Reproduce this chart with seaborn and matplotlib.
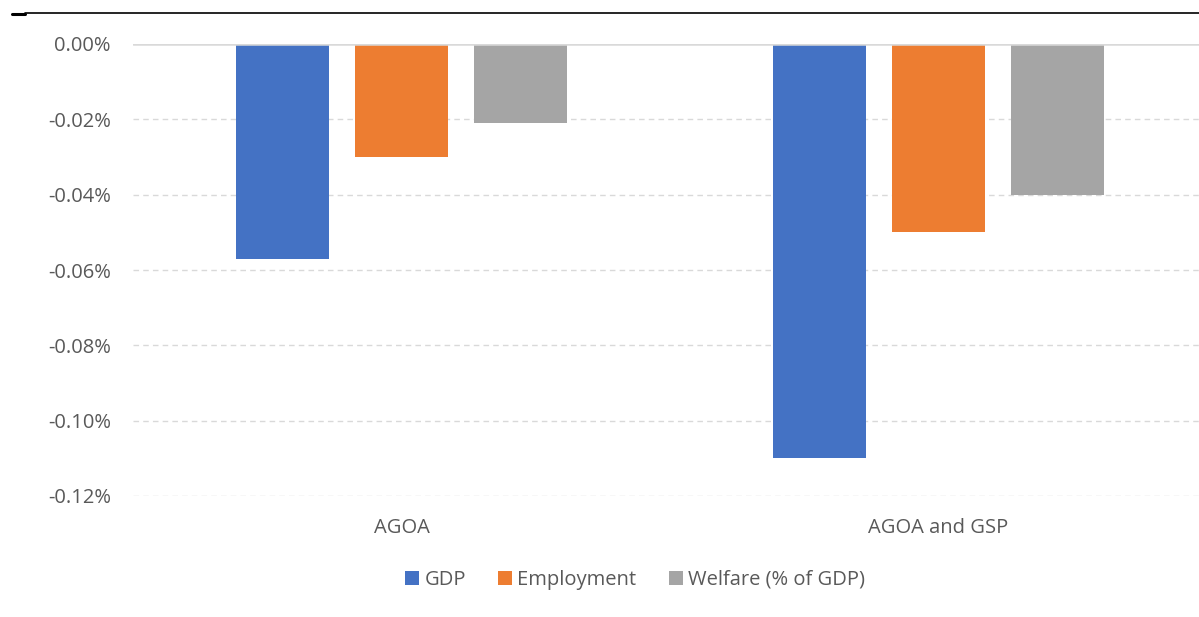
import matplotlib
matplotlib.use("Agg")
import matplotlib.pyplot as plt
from matplotlib.lines import Line2D
from matplotlib.patches import Patch
from matplotlib.ticker import FuncFormatter, MultipleLocator
import seaborn as sns
import pandas as pd

# Simulated effects of losing trade preferences (percent change)
scenarios = ["AGOA", "AGOA and GSP"]
series = ["GDP", "Employment", "Welfare (% of GDP)"]
gdp = [-0.057, -0.110]
employment = [-0.030, -0.050]
welfare = [-0.021, -0.040]
colors = ["#4472C4", "#ED7D31", "#A5A5A5"]

df = pd.DataFrame({
    "scenario": scenarios * 3,
    "measure": [s for s in series for _ in scenarios],
    "value": gdp + employment + welfare,
})

sns.set_theme(style="white")
plt.rcParams["font.family"] = ["Open Sans", "DejaVu Sans"]
text_color = "#595959"

W, H = 1199, 617
fig = plt.figure(figsize=(W / 100, H / 100), dpi=100)
ax = fig.add_axes([133 / W, 1 - 496 / H, (1199 - 133) / W, (496 - 44) / H])

sns.barplot(data=df, x="scenario", y="value", hue="measure",
            hue_order=series, order=scenarios, palette=colors,
            width=0.665, gap=0.218, saturation=1, ax=ax,
            legend=False, zorder=3, linewidth=0)

ax.set_ylim(-0.12, 0.0)
ax.set_xlim(-0.5, 1.5 - 8 / 537)
ax.yaxis.set_major_locator(MultipleLocator(0.02))
ax.yaxis.set_major_formatter(FuncFormatter(lambda v, p: f"{v:.2f}%".replace("-0.00", "0.00")))

for y in [-0.02, -0.04, -0.06, -0.08, -0.10, -0.12]:
    ax.axhline(y, color="#D9D9D9", lw=1, ls=(0, (4, 3)), zorder=1)
ax.axhline(0, color="#D9D9D9", lw=1.8, zorder=4)

for s in ax.spines.values():
    s.set_visible(False)
ax.set_xlabel("")
ax.set_ylabel("")
ax.tick_params(axis="both", length=0, colors=text_color, labelsize=14.5)
ax.tick_params(axis="y", pad=16)
ax.tick_params(axis="x", pad=16)

handles = [Patch(facecolor=c, edgecolor="none") for c in colors]
leg = fig.legend(handles, series, loc="center", bbox_to_anchor=(635 / W, 1 - 580 / H),
                 ncol=3, frameon=False, fontsize=14.5, handlelength=0.7,
                 handleheight=0.7, handletextpad=0.25, columnspacing=1.6)
for t in leg.get_texts():
    t.set_color(text_color)

# Rule across the top of the figure
fig.add_artist(Line2D([25 / W, 1.0], [1 - 13 / H] * 2, color="black", lw=1.2))
fig.add_artist(Line2D([12 / W, 25 / W], [1 - 14 / H] * 2, color="black", lw=2.2))

fig.savefig("out.png", dpi=100, facecolor="white")
